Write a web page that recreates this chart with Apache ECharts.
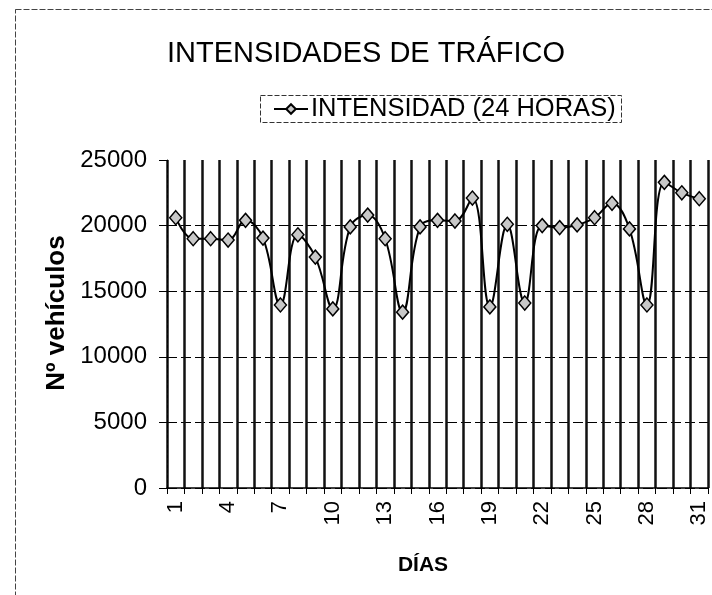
<!DOCTYPE html>
<html>
<head>
<meta charset="utf-8">
<script src="https://cdn.jsdelivr.net/npm/echarts@6/dist/echarts.min.js"></script>
<style>html,body{margin:0;padding:0;background:#fff;}#c{width:712px;height:595px;}</style>
</head>
<body>
<div id="c"></div>
<script>
var titleText = 'INTENSIDADES DE TRÁFICO';
var seriesName = 'INTENSIDAD (24 HORAS)';
var yAxisName = 'Nº vehículos';
var xAxisName = 'DÍAS';
var days = ['1','2','3','4','5','6','7','8','9','10','11','12','13','14','15','16','17','18','19','20','21','22','23','24','25','26','27','28','29','30','31'];
var vehicles = [20600, 19000, 19000, 18900, 20400, 19050, 13950, 19300, 17600, 13650, 19900, 20800, 19000, 13400, 19900, 20400, 20350, 22100, 13800, 20100, 14100, 20000, 19850, 20050, 20600, 21700, 19750, 13950, 23300, 22500, 22050];
var yTicks = {min: 0, max: 25000, interval: 5000};

var FONT = '"Liberation Sans", Arial, sans-serif';
var chart = echarts.init(document.getElementById('c'), null, {renderer: 'canvas'});
chart.setOption({
  backgroundColor: '#fff',
  animation: false,
  title: {
    text: titleText,
    left: 361, top: 34, textAlign: 'center',
    textStyle: {fontFamily: FONT, fontSize: 29, fontWeight: 'normal', color: '#000'}
  },
  legend: {
    left: 273, top: 96, padding: 0,
    itemWidth: 34, itemHeight: 12, itemGap: 0,
    textStyle: {fontFamily: FONT, fontSize: 25.5, color: '#000', padding: [0, 0, 0, -2]},
    data: [seriesName]
  },
  graphic: [
    {type: 'rect', shape: {x: 15.5, y: 9.5, width: 730, height: 620}, style: {fill: 'none', stroke: '#444', lineWidth: 1, lineDash: [6, 2]}, silent: true, z: -1},
    {type: 'rect', shape: {x: 260.5, y: 95.5, width: 361, height: 27}, style: {fill: 'none', stroke: '#333', lineWidth: 1, lineDash: [5, 2]}, silent: true}
  ],
  grid: {left: 167, right: 4, top: 160, bottom: 107, containLabel: false},
  xAxis: {
    type: 'category',
    data: days,
    boundaryGap: true,
    name: xAxisName,
    nameLocation: 'middle',
    nameGap: 67,
    nameTextStyle: {fontFamily: FONT, fontSize: 21, fontWeight: 'bold', color: '#000', padding: [0, 29, 0, 0]},
    axisLine: {show: true, lineStyle: {color: '#000', width: 1.5}},
    axisTick: {show: true, interval: 0, length: 6, lineStyle: {color: '#000', width: 1}},
    axisLabel: {interval: 2, rotate: 90, margin: 13, fontFamily: FONT, fontSize: 22, color: '#000'},
    splitLine: {show: true, interval: 0, lineStyle: {color: '#111', width: 2.5, type: 'solid'}}
  },
  yAxis: {
    type: 'value',
    min: yTicks.min, max: yTicks.max, interval: yTicks.interval,
    name: yAxisName,
    nameLocation: 'middle',
    nameGap: 97,
    nameTextStyle: {fontFamily: FONT, fontSize: 26, fontWeight: 'bold', color: '#000', padding: [0, 0, 0, 22]},
    axisLine: {show: true, lineStyle: {color: '#000', width: 1, type: [3, 2]}},
    axisTick: {show: true, length: 8, lineStyle: {color: '#000', width: 1}},
    axisLabel: {margin: 20, fontFamily: FONT, fontSize: 24, color: '#000', formatter: function (v) { return String(v); }},
    splitLine: {show: true, lineStyle: {color: ['#000', '#000', '#000', '#000', '#000', 'rgba(0,0,0,0)'], width: 1, type: [10, 4]}}
  },
  series: [{
    name: seriesName,
    type: 'line',
    data: vehicles,
    smooth: 0.4,
    showAllSymbol: true,
    symbol: 'diamond',
    symbolSize: [12, 14],
    lineStyle: {color: '#000', width: 2},
    itemStyle: {color: '#c8c8c8', borderColor: '#000', borderWidth: 1.5},
    z: 5
  }]
});
</script>
</body>
</html>
